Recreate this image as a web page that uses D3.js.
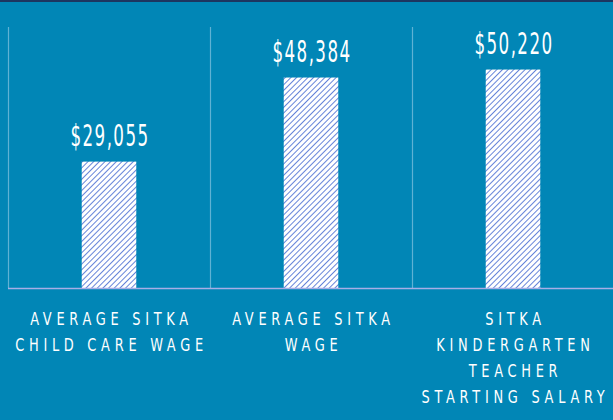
<!DOCTYPE html>
<html lang="en">
<head>
    <meta charset="UTF-8">
    <title>Sitka Wages</title>
    <script src="https://d3js.org/d3.v7.min.js"></script>
    <style>
        body{ margin:0; background:#0186b6; }
        svg{ display:block; }
        text{ fill:#ffffff; font-family:"Liberation Sans Narrow","DejaVu Sans Condensed",sans-serif; }
    </style>
</head>
<body>
<svg viewBox="0 0 613 420" width="613" height="420">
</svg>
<script>
    // data
    let categories = ["Average Sitka Child Care Wage", "Average Sitka Wage", "Sitka Kindergarten Teacher Starting Salary"];
    let values = [29055, 48384, 50220];
    let labelLines = [
        ["AVERAGE SITKA", "CHILD CARE WAGE"],
        ["AVERAGE SITKA", "WAGE"],
        ["SITKA", "KINDERGARTEN", "TEACHER", "STARTING SALARY"]
    ];
    let yMax = 60000;

    let svg = d3.select('svg');
    const width = 613, height = 420;
    const marginLeft = 8, plotTop = 27, baseline = 288;

    svg.append("rect").attr("width", width).attr("height", height).attr("fill", "#0186b6");
    svg.append("rect").attr("width", width).attr("height", 2).attr("fill", "#1d3560");

    // hatch pattern
    let defs = svg.append("defs");
    let pat = defs.append("pattern")
        .attr("id", "hatch")
        .attr("patternUnits", "userSpaceOnUse")
        .attr("width", 4).attr("height", 4)
        .attr("patternTransform", "rotate(45)");
    pat.append("rect").attr("width", 4).attr("height", 4).attr("fill", "#ffffff");
    pat.append("line")
        .attr("x1", 0).attr("y1", 0).attr("x2", 0).attr("y2", 4)
        .attr("stroke", "#4a6ed2").attr("stroke-width", 1.7);

    let xScale = d3.scaleBand()
        .domain(categories)
        .range([marginLeft, marginLeft + 606])
        .padding(0);
    let yScale = d3.scaleLinear()
        .domain([0, yMax])
        .range([baseline, plotTop]);

    let barW = xScale.bandwidth() * 0.27;
    let mid = d => xScale(d) + xScale.bandwidth() / 2;

    // vertical gridlines at band edges
    svg.append("g").selectAll("line")
        .data(categories)
        .join("line")
        .attr("x1", d => xScale(d) + 0.5).attr("x2", d => xScale(d) + 0.5)
        .attr("y1", yScale(yMax)).attr("y2", baseline)
        .attr("stroke", "#5fb2d4").attr("stroke-width", 1.2);

    // bars
    svg.append("g").selectAll("rect")
        .data(categories)
        .join("rect")
        .attr("x", d => mid(d) - barW / 2)
        .attr("y", (d, i) => yScale(values[i]))
        .attr("width", barW)
        .attr("height", (d, i) => baseline - yScale(values[i]))
        .attr("fill", "url(#hatch)");

    // baseline
    svg.append("line")
        .attr("x1", marginLeft).attr("x2", width)
        .attr("y1", baseline + 0.5).attr("y2", baseline + 0.5)
        .attr("stroke", "#a9aee6").attr("stroke-width", 1.5);

    // value labels (glyphs squeezed, the original uses a condensed face)
    svg.append("g").selectAll("text")
        .data(categories)
        .join("text")
        .attr("transform", (d, i) => `translate(${mid(d) + 1},${yScale(values[i]) - 16}) scale(0.62,1)`)
        .attr("text-anchor", "middle")
        .attr("font-size", 30)
        .attr("letter-spacing", 2.3)
        .text((d, i) => d3.format("$,")(values[i]));

    // category labels
    let cat = svg.append("g").selectAll("text")
        .data(categories)
        .join("text")
        .attr("transform", d => `translate(${mid(d) + 2.5},0) scale(0.8,1)`)
        .attr("text-anchor", "middle")
        .attr("font-size", 18)
        .attr("letter-spacing", 5.9);
    cat.selectAll("tspan")
        .data((d, i) => labelLines[i])
        .join("tspan")
        .attr("x", 0)
        .attr("y", (d, j) => 325 + j * 26)
        .text(d => d);
</script>
</body>
</html>
